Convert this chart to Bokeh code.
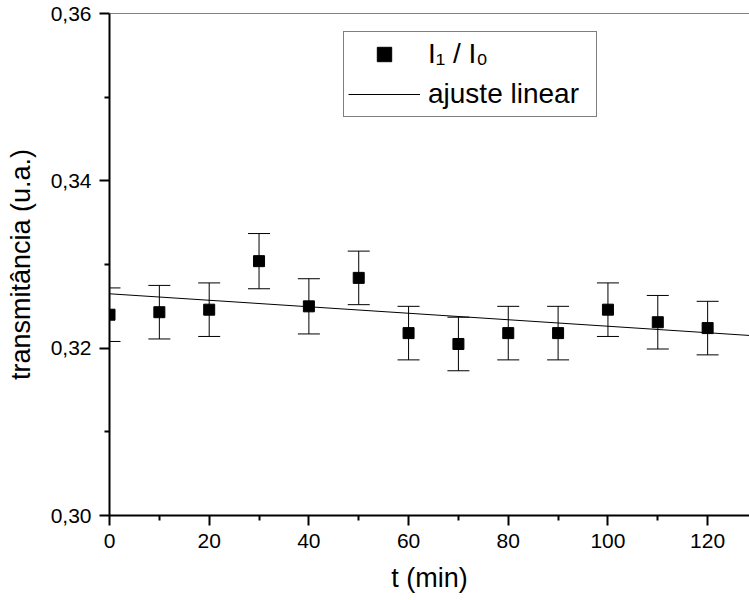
import numpy as np
from bokeh.plotting import figure
from bokeh.models import (ColumnDataSource, Whisker, TeeHead, Legend, LegendItem,
                          Span, FixedTicker, CustomJSTickFormatter, Range1d)
from bokeh.embed import file_html
from bokeh.resources import INLINE

# ---- data ----
t_min = [0, 10, 20, 30, 40, 50, 60, 70, 80, 90, 100, 110, 120]
ratio = [0.3240, 0.3243, 0.3246, 0.3304, 0.3250, 0.3284, 0.3218,
         0.3205, 0.3218, 0.3218, 0.3246, 0.3231, 0.3224]
ratio_err = [0.0032, 0.0032, 0.0032, 0.0033, 0.0033, 0.0032, 0.0032,
             0.0032, 0.0032, 0.0032, 0.0032, 0.0032, 0.0032]
fit_intercept = 0.3265
fit_slope = -3.88e-5
x_ticks = [0, 20, 40, 60, 80, 100, 120]
x_minor = [10, 30, 50, 70, 90, 110]
y_ticks = [0.30, 0.32, 0.34, 0.36]
y_minor = [0.31, 0.33, 0.35]
x_lim = [0, 128.4]
y_lim = [0.30, 0.36]

FONT = "Liberation Sans"

p = figure(width=749, height=600, output_backend="svg", toolbar_location=None,
           x_range=Range1d(*x_lim), y_range=Range1d(*y_lim),
           min_border_left=109, min_border_right=0, min_border_top=13,
           min_border_bottom=85)
p.outline_line_color = None
p.grid.visible = False
p.background_fill_color = "white"
p.border_fill_color = "white"

# top frame line
p.add_layout(Span(location=y_lim[1], dimension="width", line_color="black", line_width=1))

upper = [r + e for r, e in zip(ratio, ratio_err)]
lower = [r - e for r, e in zip(ratio, ratio_err)]
src = ColumnDataSource(dict(t=t_min, r=ratio, upper=upper, lower=lower))

wh = Whisker(base="t", upper="upper", lower="lower", source=src,
             line_color="black", line_width=1,
             upper_head=TeeHead(size=22, line_color="black", line_width=1),
             lower_head=TeeHead(size=22, line_color="black", line_width=1))
p.add_layout(wh)

t_fit = np.array(x_lim)
y_fit = fit_intercept + fit_slope * t_fit
line_r = p.line(t_fit, y_fit, line_color="black", line_width=1)

sc = p.scatter("t", "r", source=src, marker="square", size=11,
               fill_color="black", line_color="black")

for ax in (p.xaxis[0], p.yaxis[0]):
    ax.axis_line_width = 2
    ax.major_tick_line_width = 2
    ax.minor_tick_line_width = 2
    ax.major_tick_out = 10
    ax.major_tick_in = 0
    ax.minor_tick_out = 5
    ax.minor_tick_in = 0
    ax.major_label_text_font = FONT
    ax.major_label_text_font_size = "21px"
    ax.major_label_text_color = "black"
    ax.axis_label_text_font = FONT
    ax.axis_label_text_font_size = "27px"
    ax.axis_label_text_font_style = "normal"
    ax.axis_label_text_color = "black"
    ax.major_label_standoff = 8

p.xaxis.ticker = FixedTicker(ticks=x_ticks, minor_ticks=x_minor)
p.yaxis.ticker = FixedTicker(ticks=y_ticks, minor_ticks=y_minor)
p.yaxis.formatter = CustomJSTickFormatter(code="return tick.toFixed(2).replace('.', ',');")
p.xaxis.axis_label = "t (min)"
p.yaxis.axis_label = "transmitância (u.a.)"
p.xaxis.axis_label_standoff = 12
p.yaxis.axis_label_standoff = 12

legend = Legend(items=[LegendItem(label="I\u2081 / I\u2080", renderers=[sc]),
                       LegendItem(label="ajuste linear", renderers=[line_r])],
                location=(234, 398), orientation="vertical",
                glyph_width=72, glyph_height=36, label_height=36,
                label_width=164, label_standoff=8, padding=4, spacing=4,
                margin=0, border_line_color="black", border_line_width=1,
                label_text_font=FONT, label_text_font_size="28px",
                label_text_color="black", background_fill_alpha=1.0)
p.add_layout(legend)

open("out.html", "w").write(file_html(p, INLINE))
